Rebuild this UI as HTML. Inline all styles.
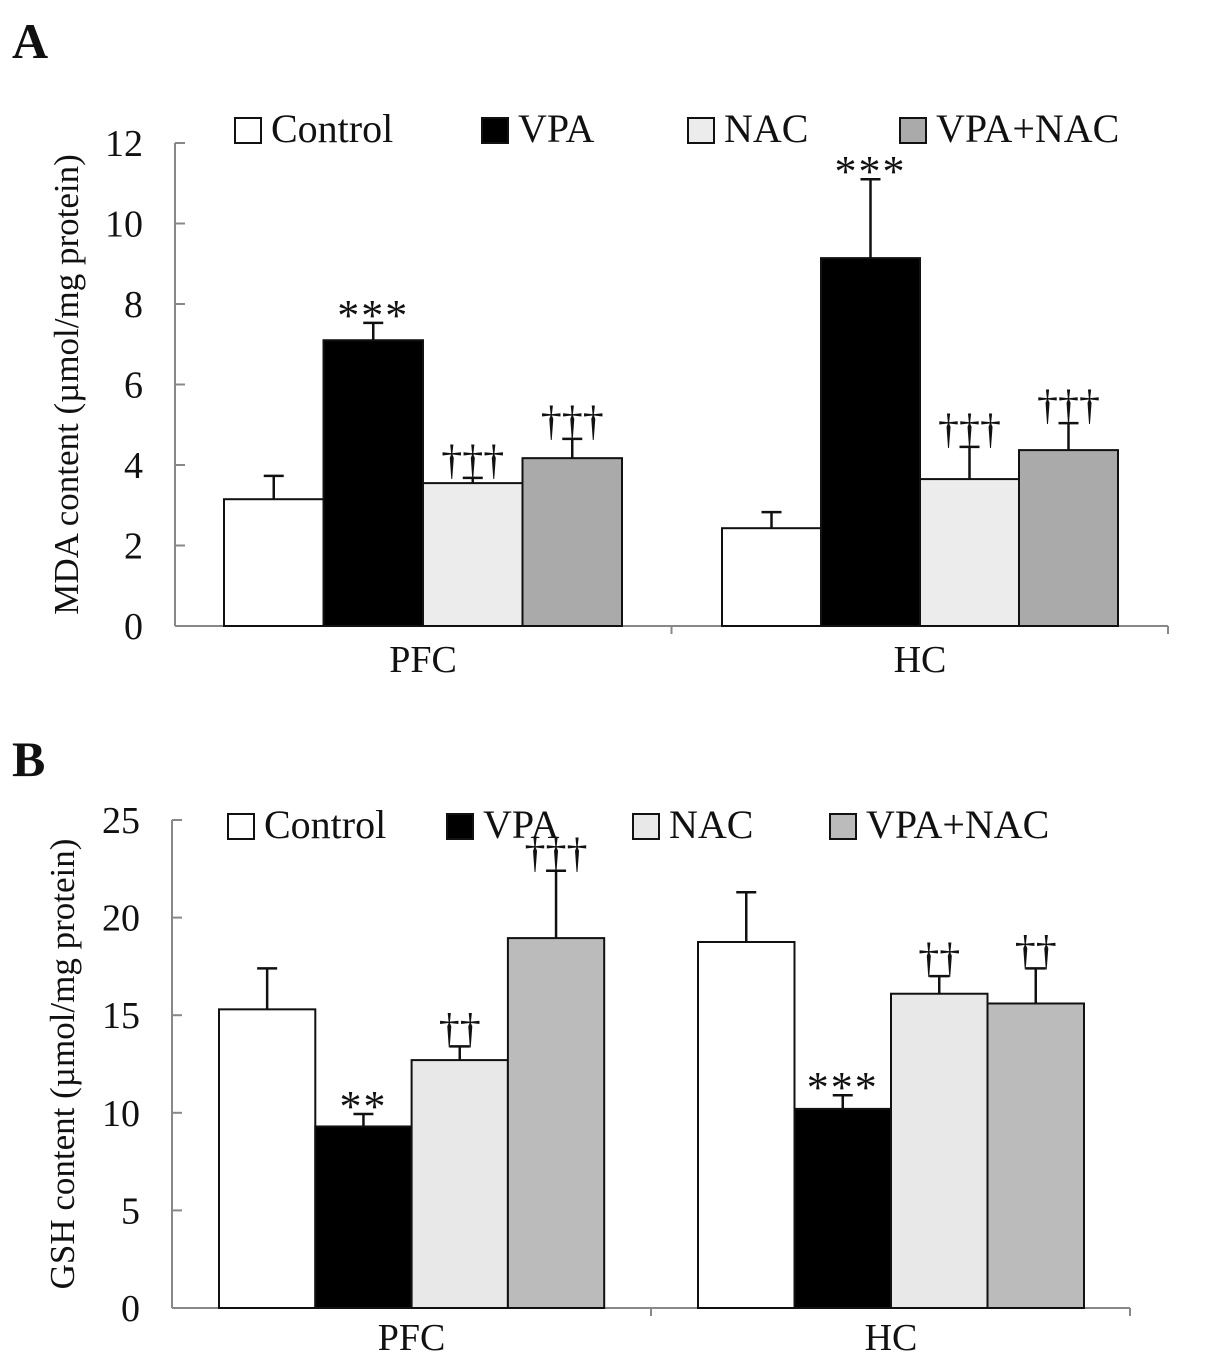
<!DOCTYPE html>
<html><head><meta charset="utf-8"><style>
body{margin:0;background:#fff}
svg text{font-family:"Liberation Serif",serif;fill:#111}
</style></head><body>
<svg id="fig" width="1205" height="1363" viewBox="0 0 1205 1363" xmlns="http://www.w3.org/2000/svg">
<text x="12" y="58" font-size="50" font-weight="bold">A</text>
<text x="12" y="776" font-size="50" font-weight="bold">B</text>
<g id="pa"></g>
<g id="pb"></g>
</svg>
<script>
const groups=["PFC","HC"];
const seriesNames=["Control","VPA","NAC","VPA+NAC"];
const aMeans=[[3.15,7.1,3.55,4.17],[2.43,9.14,3.65,4.37]];
const aErrs=[[0.58,0.43,0.13,0.48],[0.4,1.96,0.8,0.67]];
const aMarks=[["","***","†††","†††"],["","***","†††","†††"]];
const aTicks=[0,2,4,6,8,10,12];
const bMeans=[[15.3,9.3,12.7,18.95],[18.75,10.2,16.1,15.6]];
const bErrs=[[2.1,0.64,0.7,3.45],[2.55,0.7,0.9,1.8]];
const bMarks=[["","**","††","†††"],["","***","††","††"]];
const bTicks=[0,5,10,15,20,25];
const NS="http://www.w3.org/2000/svg";
function mk(p,t,a){const e=document.createElementNS(NS,t);for(const k in a)e.setAttribute(k,a[k]);p.appendChild(e);return e;}
function panel(g,cfg){
  const {x0,x1,y0,y1,max,ticks,means,errs,marks,bars,colors,legX,legY,title,titleX,catY}=cfg;
  const ys=v=>y0-(v/max)*(y0-y1);
  const ax=mk(g,'line',{x1:x0,y1:y0,x2:x0,y2:y1,stroke:'#888','stroke-width':2});
  
  const xa=mk(g,'line',{x1:x0,y1:y0,x2:x1,y2:y0,stroke:'#888','stroke-width':2});
  
  mk(g,'line',{x1:(x0+x1)/2,y1:y0,x2:(x0+x1)/2,y2:y0+8,stroke:'#888','stroke-width':2});
  mk(g,'line',{x1:x1,y1:y0,x2:x1,y2:y0+8,stroke:'#888','stroke-width':2});
  ticks.forEach(t=>{
    mk(g,'line',{x1:x0,y1:ys(t),x2:x0+10,y2:ys(t),stroke:'#888','stroke-width':2});
    const tx=mk(g,'text',{x:x0-32,y:ys(t)+13,'font-size':38,'text-anchor':'end'});tx.textContent=t;
    
  });
  const tt=mk(g,'text',{x:0,y:0,'font-size':35,'text-anchor':'middle',transform:`translate(${titleX},${(y0+y1)/2}) rotate(-90)`});
  tt.textContent=title;
  groups.forEach((gn,gi)=>{
    const [gx,bw]=bars[gi];
    means[gi].forEach((m,si)=>{
      const bx=gx+si*bw, top=ys(m), et=ys(m+errs[gi][si]), cx=bx+bw/2;
      mk(g,'line',{x1:cx,y1:top,x2:cx,y2:et,stroke:'#111','stroke-width':2.5});
      mk(g,'line',{x1:cx-10,y1:et,x2:cx+10,y2:et,stroke:'#111','stroke-width':2.5});
      const r=mk(g,'rect',{x:bx,y:top,width:bw,height:y0-top,fill:colors[si],stroke:'#111','stroke-width':2});
      
      const mkTxt=marks[gi][si];
      if(mkTxt){const star=mkTxt[0]=='*';
        const t=mk(g,'text',{x:cx,y:star?et+7:et-4,'font-size':star?44:42,'text-anchor':'middle','letter-spacing':star?2:0});t.textContent=mkTxt;
        }
    });
    const c=mk(g,'text',{x:gx+2*bw,y:catY,'font-size':38,'text-anchor':'middle'});c.textContent=gn;
    
  });
  seriesNames.forEach((s,i)=>{
    const r=mk(g,'rect',{x:legX[i],y:legY-24,width:26,height:25,fill:colors[i],stroke:'#111','stroke-width':2});
    
    const t=mk(g,'text',{x:legX[i]+36,y:legY,'font-size':40});t.textContent=s;
    
  });
}
panel(document.getElementById('pa'),{x0:175,x1:1168,y0:626,y1:143,max:12,ticks:aTicks,means:aMeans,errs:aErrs,marks:aMarks,
 bars:[[224,99.5],[722,99]],colors:['#fff','#000','#ececec','#aaaaaa'],legX:[235,482,688,900],legY:142,
 title:'MDA content (µmol/mg protein)',titleX:78,catY:672});
panel(document.getElementById('pb'),{x0:172,x1:1130,y0:1308,y1:820,max:25,ticks:bTicks,means:bMeans,errs:bErrs,marks:bMarks,
 bars:[[219,96.3],[698,96.5]],colors:['#fff','#000','#e8e8e8','#bbbbbb'],legX:[228,447,633,830],legY:838,
 title:'GSH content (µmol/mg protein)',titleX:74,catY:1350});
</script>
</body></html>
